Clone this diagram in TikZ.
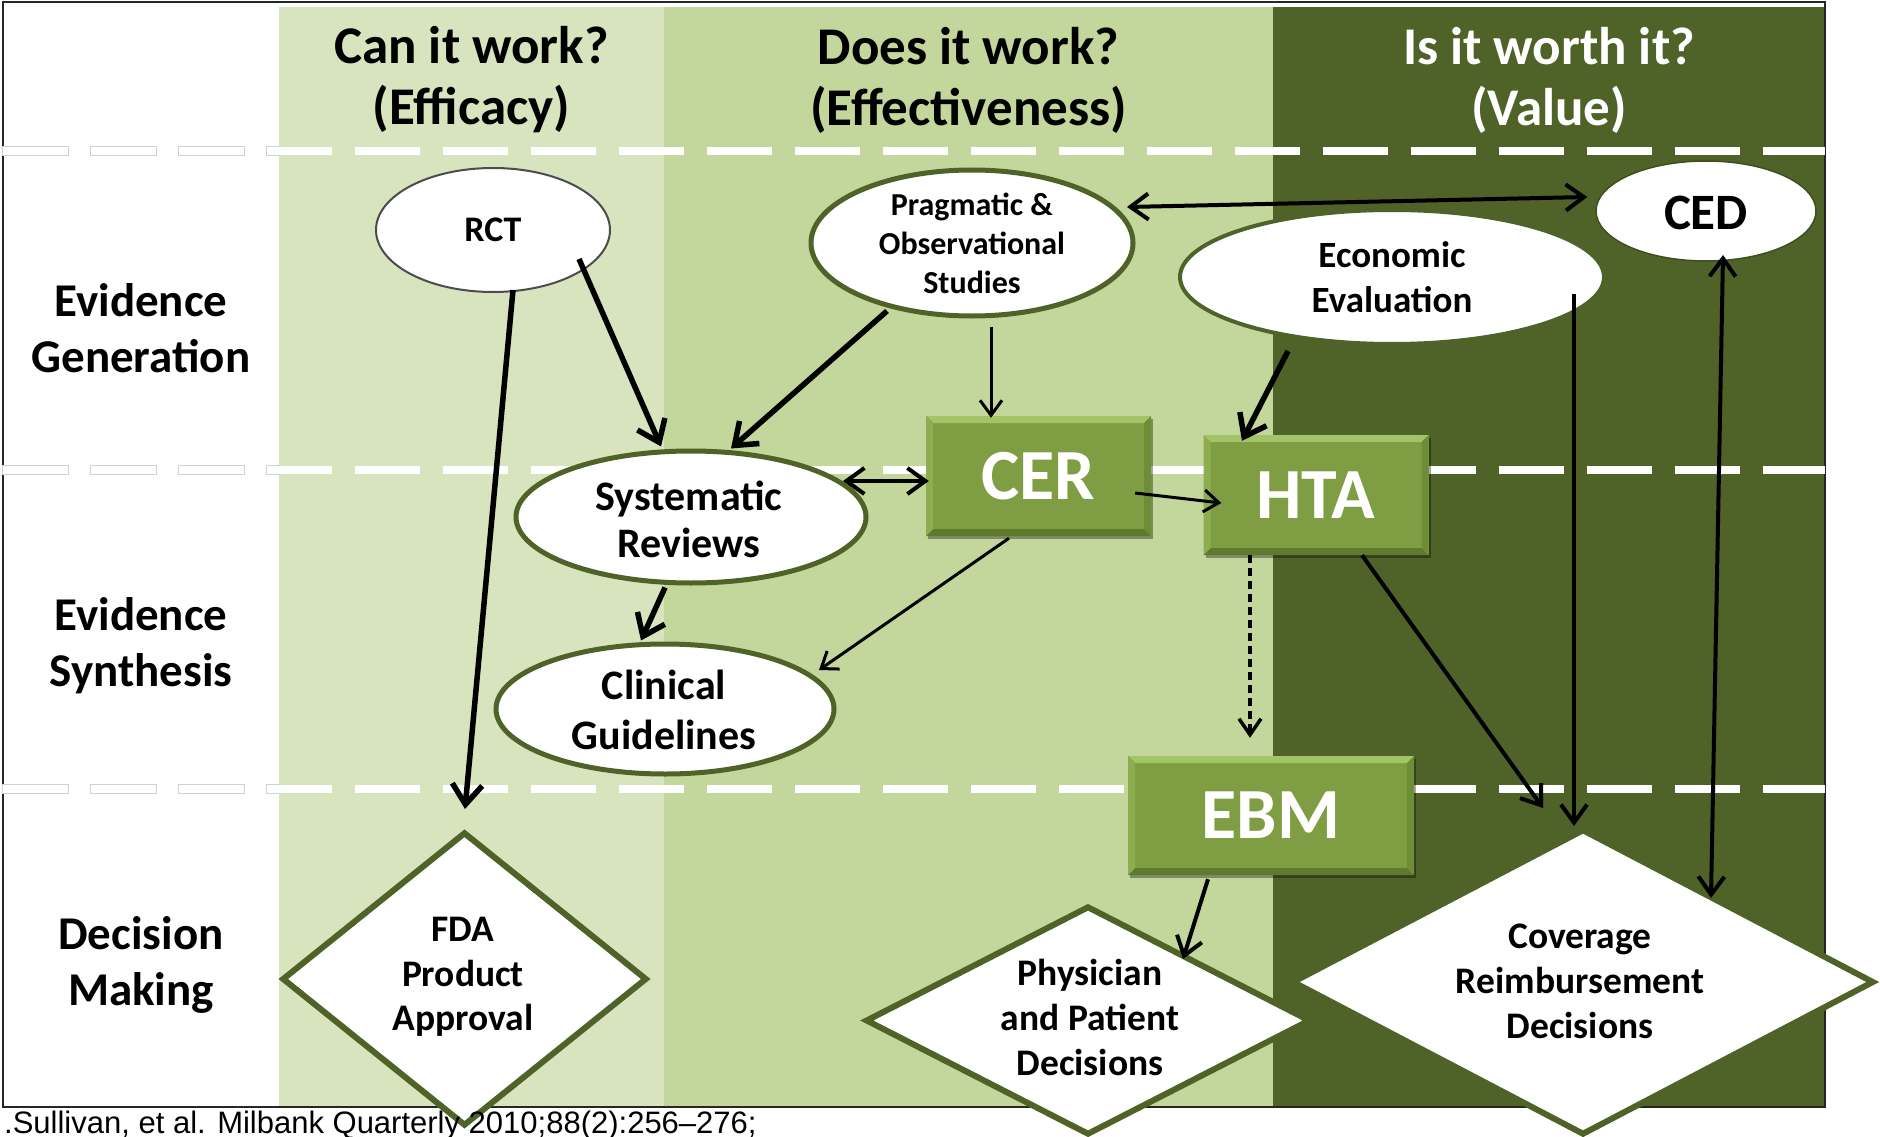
\documentclass[tikz,border=0pt]{standalone}
\usepackage{fontspec}
\setmainfont{Carlito}
\newfontfamily\citefont{Liberation Sans}
\usetikzlibrary{arrows.meta,shapes.geometric,calc,shadows}

\definecolor{effcol}{HTML}{D7E4BD}
\definecolor{effectcol}{HTML}{C3D69B}
\definecolor{valcol}{HTML}{4F6228}
\definecolor{olive}{HTML}{4F6228}
\definecolor{boxgreen}{HTML}{7F9E44}
\definecolor{bevtop}{HTML}{A4C468}
\definecolor{bevleft}{HTML}{8CAD50}
\definecolor{bevright}{HTML}{6E8D37}
\definecolor{bevbot}{HTML}{5E7A2C}

\begin{document}
\begin{tikzpicture}[x=1pt,y=-1pt,
  hdr/.style={font=\bfseries\fontsize{53}{61}\selectfont, align=center, inner sep=0pt},
  rowlab/.style={font=\bfseries\fontsize{47}{56}\selectfont, align=center, inner sep=0pt},
  lbl/.style={align=center, inner sep=0pt},
  oval/.style={ellipse, draw=olive, line width=5pt, fill=white, inner sep=0pt},
  dmd/.style={diamond, draw=olive, line width=6pt, fill=white, inner sep=0pt},
  gbox/.style={rectangle, fill=boxgreen, inner sep=0pt, text=white,
    font=\bfseries\fontsize{72}{80}\selectfont,
    drop shadow={shadow xshift=2pt, shadow yshift=-3pt, opacity=0.35, fill=black},
    path picture={
      \fill[bevtop] (path picture bounding box.north west) -- (path picture bounding box.north east)
        -- ([xshift=-7pt,yshift=-7pt]path picture bounding box.north east)
        -- ([xshift=7pt,yshift=-7pt]path picture bounding box.north west) -- cycle;
      \fill[bevbot] (path picture bounding box.south west) -- (path picture bounding box.south east)
        -- ([xshift=-7pt,yshift=7pt]path picture bounding box.south east)
        -- ([xshift=7pt,yshift=7pt]path picture bounding box.south west) -- cycle;
      \fill[bevleft] (path picture bounding box.north west) -- (path picture bounding box.south west)
        -- ([xshift=7pt,yshift=7pt]path picture bounding box.south west)
        -- ([xshift=7pt,yshift=-7pt]path picture bounding box.north west) -- cycle;
      \fill[bevright] (path picture bounding box.north east) -- (path picture bounding box.south east)
        -- ([xshift=-7pt,yshift=7pt]path picture bounding box.south east)
        -- ([xshift=-7pt,yshift=-7pt]path picture bounding box.north east) -- cycle;
    }},
  sep/.style={white, line width=8pt, dash pattern=on 65pt off 23pt},
  sepedge/.style={black!18, line width=10pt, dash pattern=on 67pt off 21pt},
  thickarr/.style={line width=5.5pt, -{Straight Barb[length=20pt,width=30pt]}},
  midarr/.style={line width=4pt, -{Straight Barb[length=18pt,width=26pt]}},
  thinarr/.style={line width=3pt, -{Straight Barb[length=15pt,width=22pt]}},
  biarr/.style={line width=4pt, {Straight Barb[length=18pt,width=26pt]}-{Straight Barb[length=18pt,width=26pt]}}
]
\useasboundingbox (0,0) rectangle (1880,1137);
\clip (0,0) rectangle (1880,1137);
\fill[white] (0,0) rectangle (1880,1137);

% column backgrounds
\fill[effcol] (279,7) rectangle (664,1107);
\fill[effectcol] (664,7) rectangle (1273,1107);
\fill[valcol] (1273,7) rectangle (1825,1107);
\draw[black!85, line width=2pt] (3,2) rectangle (1825,1107);

% row separators
\foreach \yy in {151.5,470,789}{
  \begin{scope}
    \clip (0,0) rectangle (279,1137);
    \draw[sepedge] (2,\yy) -- (1825,\yy);
  \end{scope}
  \draw[sep] (3,\yy) -- (1825,\yy);
}

% column headings
\node[hdr] (h1) at (471.5,80) {Can it work?\\(Efficacy)};
\node[hdr] (h2) at (968.5,80) {Does it work?\\(Effectiveness)};
\node[hdr, text=white] (h3) at (1549,80) {Is it worth it?\\(Value)};

% row headings
\node[rowlab] (r1) at (141,328) {Evidence\\Generation};
\node[rowlab] (r2) at (141,646) {Evidence\\Synthesis};
\node[rowlab] (r3) at (141,965) {Decision\\Making};

% evidence generation
\node[ellipse, draw=black!70, line width=2pt, fill=white, inner sep=0pt,
      minimum width=234, minimum height=124] (rct) at (493,230) {};
\node[lbl, font=\bfseries\fontsize{36}{40}\selectfont] (rct-t) at (rct) {RCT};

\node[oval, minimum width=322, minimum height=146] (prag) at (972,243) {};
\node[lbl, font=\bfseries\fontsize{32}{39}\selectfont] (prag-t) at (prag) {Pragmatic \&\\Observational\\Studies};

\node[oval, line width=4pt, minimum width=424, minimum height=134] (econ) at (1392,277) {};
\node[lbl, font=\bfseries\fontsize{37}{45}\selectfont] (econ-t) at (econ) {Economic\\Evaluation};

\node[ellipse, draw=olive!80!black, line width=1.5pt, fill=white, inner sep=0pt,
      minimum width=220, minimum height=100] (ced) at (1706,211) {};
\node[lbl, font=\bfseries\fontsize{51}{56}\selectfont] (ced-t) at (1706,213) {CED};

% evidence synthesis
\node[oval, minimum width=350, minimum height=132] (sysrev) at (691,517) {};
\node[lbl, font=\bfseries\fontsize{42}{47}\selectfont] (sysrev-t) at (689,519) {Systematic\\Reviews};

\node[oval, minimum width=338, minimum height=130] (clin) at (665,709) {};
\node[lbl, font=\bfseries\fontsize{42}{50}\selectfont] (clin-t) at (664,710) {Clinical\\Guidelines};

\node[gbox, minimum width=225, minimum height=120] (cer) at (1038.5,476) {CER};
\node[gbox, minimum width=225, minimum height=120] (hta) at (1316,495) {HTA};
\node[gbox, minimum width=286, minimum height=119] (ebm) at (1271,815.5) {EBM};

% decision making
\node[dmd, minimum width=365, minimum height=294] (fda) at (464.5,979) {};
\node[lbl, font=\bfseries\fontsize{37.5}{44.5}\selectfont] (fda-t) at (463,977) {FDA\\Product\\Approval};

\node[dmd, minimum width=445, minimum height=229] (phys) at (1088,1020.5) {};
\node[lbl, font=\bfseries\fontsize{37.5}{45}\selectfont] (phys-t) at (1090,1017) {Physician\\and Patient\\Decisions};

\node[dmd, minimum width=582, minimum height=306] (cov) at (1583,982) {};
\node[lbl, font=\bfseries\fontsize{37.5}{45}\selectfont] (cov-t) at (1580,981) {Coverage\\Reimbursement\\Decisions};

% connectors
\draw[thickarr] ($(rct.south)+(20,-3)$) -- ($(fda.north)+(0.5,-20)$);
\draw[thickarr] ($(rct.center)+(86,29)$) -- ($(sysrev.north)+(-30,-2)$);
\draw[thickarr] ($(prag.center)+(-85,68)$) -- ($(sysrev.north)+(40,0)$);
\draw[thinarr] ($(prag.south)+(19,8)$) -- ($(cer.north)+(-47.5,2)$);
\draw[biarr] ($(prag.center)+(155,-36)$) -- ($(ced.west)+(-8,-14)$);
\draw[biarr] ($(sysrev.center)+(152,-36)$) -- ($(cer.west)+(3,5)$);
\draw[thickarr] ($(sysrev.south)+(-26,2)$) -- ($(clin.north)+(-24,-1)$);
\draw[thinarr] ($(cer.south)+(-29.5,2)$) -- ($(clin.center)+(154,-39)$);
\draw[thinarr] ($(cer.east)+(-16,17)$) -- ($(hta.west)+(18,8)$);
\draw[thickarr] ($(econ.center)+(-104,74)$) -- ($(hta.north)+(-74,6)$);
\draw[line width=3.5pt, dash pattern=on 8pt off 5pt, -{Straight Barb[length=16pt,width=22pt]}]
  ($(hta.south)+(-66,0)$) -- ($(ebm.north)+(-21,-18)$);
\draw[midarr] ($(hta.south)+(46,0)$) -- ($(cov.north)+(-40,-18)$);
\draw[midarr] ($(econ.center)+(182,17)$) -- ($(cov.north)+(-9,0)$);
\draw[biarr] ($(ced.center)+(17,44)$) -- ($(cov.north)+(128,72)$);
\draw[midarr] ($(ebm.south)+(-63,4)$) -- ($(phys.north)+(95,56)$);

% source line
\node[anchor=base west, inner sep=0pt, font=\citefont\fontsize{31}{36}\selectfont] (src) at (4,1133)
  {.Sullivan, et al. Milbank Quarterly 2010;88(2):256–276;};
\end{tikzpicture}
\end{document}
